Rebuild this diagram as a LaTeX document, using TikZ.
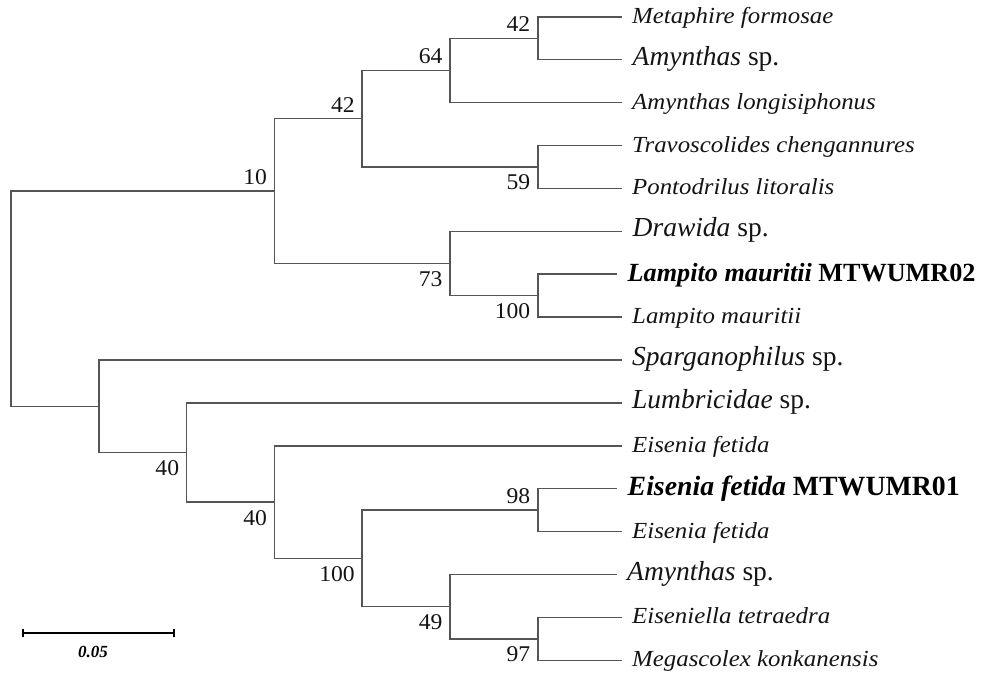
\documentclass[tikz,border=0pt]{standalone}
\usepackage{fontspec}
\setmainfont{Liberation Serif}
\newfontfamily\smallit[FakeStretch=1.08]{Liberation Serif}
\newfontfamily\numfont[FakeStretch=1.05]{Liberation Serif}
\definecolor{treegray}{RGB}{85,85,85}
\definecolor{txt}{RGB}{20,20,20}
\tikzset{
  tree/.style={draw=treegray, line width=1.5pt},
  leafS/.style={anchor=base west, inner sep=0pt, text=txt, yshift=-6.5pt,
    font=\smallit\fontsize{23}{26}\selectfont\itshape},
  leafL/.style={anchor=base west, inner sep=0pt, text=txt, yshift=-5.5pt,
    font=\fontsize{27.5}{30}\selectfont},
  leafB/.style={anchor=base west, inner sep=0pt, text=black, yshift=-7pt,
    font=\bfseries},
  bsup/.style={anchor=base east, inner sep=0pt, text=txt, xshift=-7.3pt, yshift=6.5pt,
    font=\numfont\fontsize{22.5}{24}\selectfont},
  bsdn/.style={anchor=base east, inner sep=0pt, text=txt, xshift=-7.3pt, yshift=-23pt,
    font=\numfont\fontsize{22.5}{24}\selectfont},
}
\begin{document}
\begin{tikzpicture}[x=1pt,y=-1pt]
\useasboundingbox (0,0) rectangle (1003,675);
% internal nodes
\coordinate (R) at (11,298.67);
\coordinate (A) at (274.4,191.08);
\coordinate (C) at (362.2,118.69);
\coordinate (E) at (450,70.43);
\coordinate (G) at (537.8,38.25);
\coordinate (F) at (537.8,166.95);
\coordinate (D) at (450,263.48);
\coordinate (H) at (537.8,295.65);
\coordinate (B) at (98.8,406.25);
\coordinate (I) at (186.6,452.5);
\coordinate (J) at (274.4,502.11);
\coordinate (K) at (362.2,558.41);
\coordinate (L) at (537.8,510.15);
\coordinate (M) at (450,606.68);
\coordinate (N) at (537.8,638.85);
% leaf ends
\coordinate (t1) at (622,16.8);
\coordinate (t2) at (622,59.7);
\coordinate (t3) at (622,102.6);
\coordinate (t4) at (622,145.5);
\coordinate (t5) at (622,188.4);
\coordinate (t6) at (622,231.3);
\coordinate (t7) at (617,274.2);
\coordinate (t8) at (622,317.1);
\coordinate (t9) at (622,360.0);
\coordinate (t10) at (622,402.9);
\coordinate (t11) at (622,445.8);
\coordinate (t12) at (617,488.7);
\coordinate (t13) at (622,531.6);
\coordinate (t14) at (617,574.5);
\coordinate (t15) at (622,617.4);
\coordinate (t16) at (622,660.3);
% branches
\draw[tree] (R) |- (A);
\draw[tree] (R) |- (B);
\draw[tree] (A) |- (C);
\draw[tree] (A) |- (D);
\draw[tree] (C) |- (E);
\draw[tree] (C) |- (F);
\draw[tree] (E) |- (G);
\draw[tree] (E) |- (t3);
\draw[tree] (G) |- (t1);
\draw[tree] (G) |- (t2);
\draw[tree] (F) |- (t4);
\draw[tree] (F) |- (t5);
\draw[tree] (D) |- (t6);
\draw[tree] (D) |- (H);
\draw[tree] (H) |- (t7);
\draw[tree] (H) |- (t8);
\draw[tree] (B) |- (t9);
\draw[tree] (B) |- (I);
\draw[tree] (I) |- (t10);
\draw[tree] (I) |- (J);
\draw[tree] (J) |- (t11);
\draw[tree] (J) |- (K);
\draw[tree] (K) |- (L);
\draw[tree] (K) |- (M);
\draw[tree] (L) |- (t12);
\draw[tree] (L) |- (t13);
\draw[tree] (M) |- (t14);
\draw[tree] (M) |- (N);
\draw[tree] (N) |- (t15);
\draw[tree] (N) |- (t16);
% leaf labels
\node[leafS] (n1) at ([xshift=10pt]t1) {Metaphire formosae};
\node[leafL] (n2) at ([xshift=10.5pt]t2) {\textit{Amynthas} sp.};
\node[leafS] (n3) at ([xshift=10pt]t3) {Amynthas longisiphonus};
\node[leafS] (n4) at ([xshift=10pt]t4) {Travoscolides chengannures};
\node[leafS] (n5) at ([xshift=10pt]t5) {Pontodrilus litoralis};
\node[leafL] (n6) at ([xshift=10.5pt]t6) {\textit{Drawida} sp.};
\node[leafB] (n7) at ([xshift=10.5pt]t7) {\fontsize{26.2}{29}\selectfont\textit{Lampito mauritii} MTWUMR02};
\node[leafS] (n8) at ([xshift=10pt]t8) {Lampito mauritii};
\node[leafL] (n9) at ([xshift=10pt]t9) {\textit{Sparganophilus} sp.};
\node[leafL] (n10) at ([xshift=10pt]t10) {\textit{Lumbricidae} sp.};
\node[leafS] (n11) at ([xshift=10pt]t11) {Eisenia fetida};
\node[leafB] (n12) at ([xshift=10.5pt]t12) {\fontsize{27.8}{30}\selectfont\textit{Eisenia fetida} MTWUMR01};
\node[leafS] (n13) at ([xshift=10pt]t13) {Eisenia fetida};
\node[leafL] (n14) at ([xshift=10pt]t14) {\textit{Amynthas} sp.};
\node[leafS] (n15) at ([xshift=10pt]t15) {Eiseniella tetraedra};
\node[leafS] (n16) at ([xshift=10pt]t16) {Megascolex konkanensis};
% bootstrap values
\node[bsup] (bG) at (G) {42};
\node[bsup] (bE) at (E) {64};
\node[bsup] (bC) at (C) {42};
\node[bsup] (bA) at (A) {10};
\node[bsdn] (bF) at (F) {59};
\node[bsdn] (bD) at (D) {73};
\node[bsdn] (bH) at (H) {100};
\node[bsdn] (bI) at (I) {40};
\node[bsdn] (bJ) at (J) {40};
\node[bsdn] (bK) at (K) {100};
\node[bsup] (bL) at (L) {98};
\node[bsdn] (bM) at (M) {49};
\node[bsdn] (bN) at (N) {97};
% scale bar
\coordinate (s1) at (22.7,632.7);
\coordinate (s2) at (174,632.7);
\draw[line width=2.4pt, black] (s1) -- (s2);
\draw[line width=1.6pt, black] ([yshift=4pt]s1) -- ([yshift=-4pt]s1);
\draw[line width=1.6pt, black] ([yshift=4pt]s2) -- ([yshift=-4pt]s2);
\node[anchor=base, inner sep=0pt, font=\fontsize{17}{19}\selectfont\bfseries\itshape] (sl) at (93,657) {0.05};
\end{tikzpicture}
\end{document}
